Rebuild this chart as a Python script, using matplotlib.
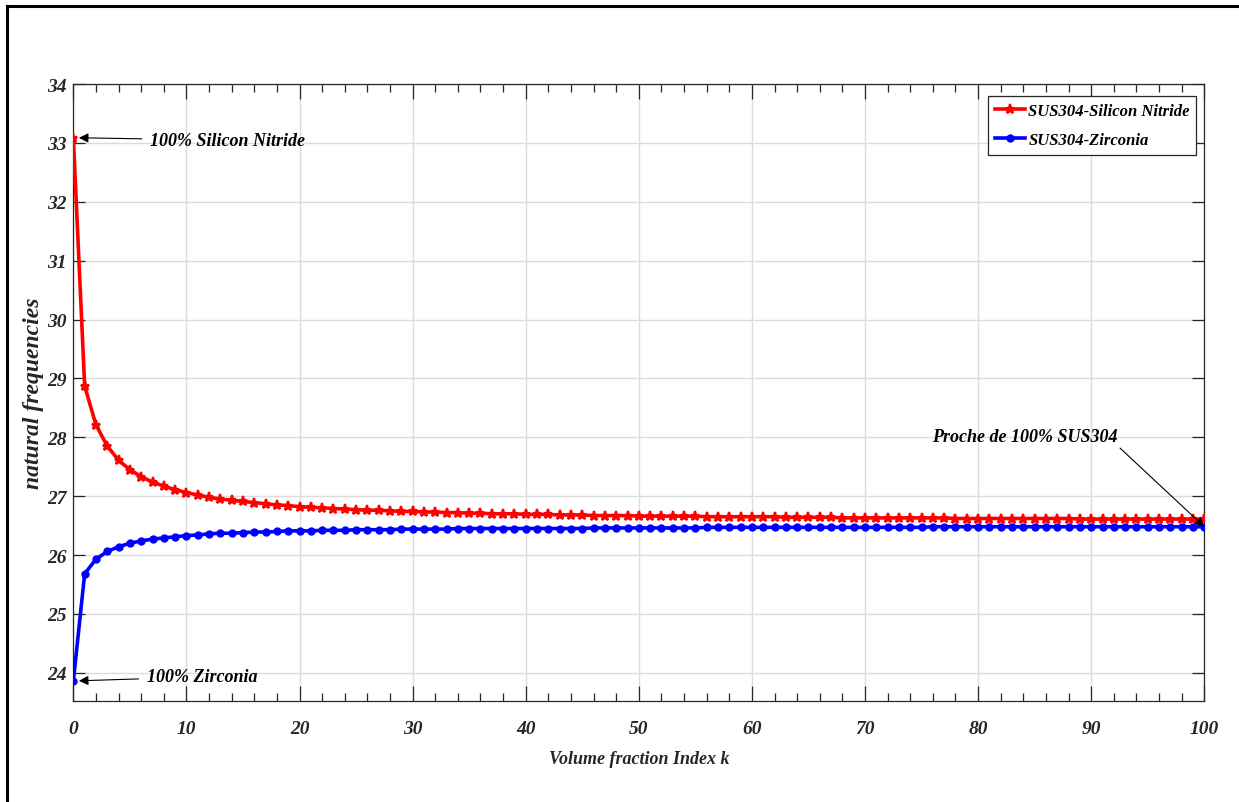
import matplotlib
matplotlib.use("Agg")
import matplotlib.pyplot as plt
from matplotlib.lines import Line2D
from matplotlib.ticker import MultipleLocator

# ---- data ----
k = list(range(0, 101))

sus_si3n4 = [
    33.09, 28.87, 28.21, 27.85, 27.61, 27.45, 27.33, 27.24, 27.17, 27.11,
    27.06, 27.02, 26.98, 26.95, 26.93, 26.91, 26.89, 26.87, 26.85, 26.84,
    26.82, 26.81, 26.80, 26.79, 26.78, 26.77, 26.76, 26.76, 26.75, 26.74,
    26.74, 26.73, 26.73, 26.72, 26.72, 26.71, 26.71, 26.70, 26.70, 26.70,
    26.69, 26.69, 26.69, 26.68, 26.68, 26.68, 26.67, 26.67, 26.67, 26.67,
    26.66, 26.66, 26.66, 26.66, 26.66, 26.66, 26.65, 26.65, 26.65, 26.65,
    26.65, 26.65, 26.65, 26.64, 26.64, 26.64, 26.64, 26.64, 26.63, 26.63,
    26.63, 26.63, 26.63, 26.63, 26.63, 26.63, 26.63, 26.63, 26.62, 26.62,
    26.62, 26.62, 26.62, 26.62, 26.62, 26.62, 26.62, 26.62, 26.62, 26.61,
    26.61, 26.61, 26.61, 26.61, 26.61, 26.61, 26.61, 26.61, 26.61, 26.61,
    26.61,
]

sus_zro2 = [
    23.86, 25.68, 25.93, 26.06, 26.14, 26.20, 26.24, 26.27, 26.29, 26.31,
    26.33, 26.34, 26.36, 26.37, 26.37, 26.38, 26.39, 26.39, 26.40, 26.41,
    26.41, 26.41, 26.42, 26.42, 26.42, 26.43, 26.43, 26.43, 26.43, 26.44,
    26.44, 26.44, 26.44, 26.44, 26.45, 26.45, 26.45, 26.45, 26.45, 26.45,
    26.45, 26.45, 26.45, 26.45, 26.45, 26.45, 26.46, 26.46, 26.46, 26.46,
    26.46, 26.46, 26.46, 26.46, 26.46, 26.46, 26.47, 26.47, 26.47, 26.47,
    26.47, 26.47, 26.47, 26.47, 26.47, 26.47, 26.47, 26.47, 26.47, 26.47,
    26.47, 26.47, 26.47, 26.47, 26.47, 26.47, 26.48, 26.48, 26.48, 26.48,
    26.48, 26.48, 26.48, 26.48, 26.48, 26.48, 26.48, 26.48, 26.48, 26.48,
    26.48, 26.48, 26.48, 26.48, 26.48, 26.48, 26.48, 26.48, 26.48, 26.48,
    26.48,
]

series_labels = ["SUS304-Silicon Nitride", "SUS304-Zirconia"]
x_label = "Volume fraction Index k"
y_label = "natural frequencies"
ann_si = "100% Silicon Nitride"
ann_zr = "100% Zirconia"
ann_sus = "Proche de 100% SUS304"

# ---- figure ----
FONT = "Liberation Serif"
plt.rcParams["font.family"] = [FONT, "DejaVu Serif"]

fig = plt.figure(figsize=(12.39, 8.03), dpi=100)
ax = fig.add_axes([0.0592, 0.1258, 0.9128, 0.7682])

ax.plot(k, sus_si3n4, color="#ff0000", lw=2.6, marker="*", ms=6.5, mew=1.6,
        label=series_labels[0], zorder=3)
ax.plot(k, sus_zro2, color="#0000ff", lw=2.6, marker="o", ms=5,
        label=series_labels[1], zorder=3)

ax.set_xlim(0, 100)
ax.set_ylim(23.52, 34)
ax.xaxis.set_major_locator(MultipleLocator(10))
ax.xaxis.set_minor_locator(MultipleLocator(2))
ax.yaxis.set_major_locator(MultipleLocator(1))

ax.grid(True, which="major", color="#dcdcdc", lw=1.0)
ax.set_axisbelow(True)

ax.tick_params(which="both", direction="in", top=True, right=True,
               colors="#262626", labelcolor="#262626")
ax.tick_params(axis="x", which="major", length=11, width=0.9, pad=14)
ax.tick_params(axis="x", which="minor", length=5.5, width=0.9)
ax.tick_params(axis="y", which="major", length=8.5, width=0.9, pad=5)

for lab in ax.get_xticklabels() + ax.get_yticklabels():
    lab.set_fontfamily(FONT)
    lab.set_fontstyle("italic")
    lab.set_fontweight("bold")
    lab.set_fontsize(14)

for sp in ax.spines.values():
    sp.set_color("#262626")
    sp.set_linewidth(0.9)

ax.set_xlabel(x_label, fontsize=13, fontstyle="italic", fontweight="bold",
              color="#262626", labelpad=9)
ax.set_ylabel(y_label, fontsize=17, fontstyle="italic", fontweight="bold",
              color="#262626")
ax.yaxis.set_label_coords(-0.0262, 0.5)

# annotations
txt_kw = dict(fontsize=13, fontstyle="italic", fontweight="bold", color="black")
ax.annotate(ann_si, xy=(k[0], sus_si3n4[0]), xycoords="data",
            xytext=(0.0678, 0.909), textcoords="axes fraction",
            va="center", ha="left",
            arrowprops=dict(arrowstyle="-|>", color="black", lw=0.8,
                            mutation_scale=14, shrinkA=4, shrinkB=4),
            **txt_kw)
ax.annotate(ann_zr, xy=(k[0], sus_zro2[0]), xycoords="data",
            xytext=(0.065, 0.039), textcoords="axes fraction",
            va="center", ha="left",
            arrowprops=dict(arrowstyle="-|>", color="black", lw=0.8,
                            mutation_scale=14, shrinkA=4, shrinkB=4),
            **txt_kw)
ax.annotate(ann_sus, xy=(k[-1], sus_zro2[-1]), xycoords="data",
            xytext=(0.759, 0.428), textcoords="axes fraction",
            va="center", ha="left",
            arrowprops=dict(arrowstyle="-|>", color="black", lw=0.8,
                            mutation_scale=14, shrinkA=0, shrinkB=0,
                            relpos=(1.0, 0.0)),
            **txt_kw)

leg = ax.legend(loc="upper right", bbox_to_anchor=(0.993, 0.981),
                borderaxespad=0, frameon=True, fancybox=False,
                edgecolor="#262626", framealpha=1, numpoints=1,
                handlelength=1.8, handletextpad=0.2, borderpad=0.4,
                labelspacing=0.8,
                prop=dict(family=FONT, style="italic", weight="bold", size=12))
leg.get_frame().set_linewidth(0.9)

# figure border (left and top edges visible)
fig.add_artist(Line2D([7 / 1239, 7 / 1239], [0, 1 - 7 / 803],
                      transform=fig.transFigure, color="black", lw=2.2))
fig.add_artist(Line2D([7 / 1239, 1], [1 - 7 / 803, 1 - 7 / 803],
                      transform=fig.transFigure, color="black", lw=2.2))

fig.savefig("out.png", dpi=100, facecolor="white")
